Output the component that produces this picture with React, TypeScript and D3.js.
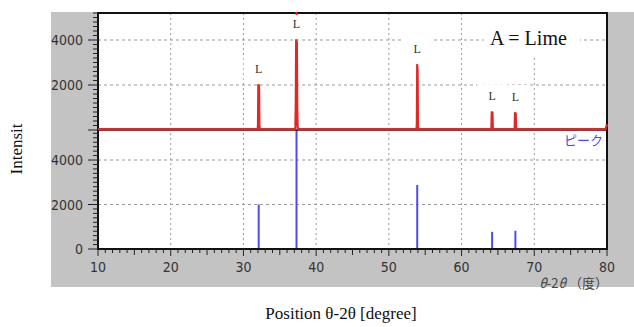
import React, { useEffect, useRef } from 'react';
import * as d3 from 'd3';

// peak positions (2-theta) and labels
const peakAngles = [32.1, 37.3, 53.9, 64.2, 67.4];
const peakLabels = ['L', 'L', 'L', 'L', 'L'];

// measured pattern (red), angle / counts
const traceAngles = [10, 31.95, 32.0, 32.05, 32.15, 32.2, 32.25, 37.1, 37.15, 37.2, 37.25, 37.35, 37.4, 37.45, 37.5,
    53.8, 53.85, 53.9, 53.95, 54.0, 54.05, 64.1, 64.15, 64.25, 64.3, 67.3, 67.35, 67.45, 67.5, 79.8, 80];
const traceCounts = [40, 40, 200, 2000, 1980, 200, 40, 40, 150, 1200, 4000, 3900, 1100, 200, 40,
    40, 300, 2900, 2700, 200, 40, 40, 790, 780, 40, 40, 760, 740, 40, 40, 250];

// reference card (blue sticks)
const refAngles = [32.1, 37.3, 53.9, 64.2, 67.4, 80];
const refCounts = [2000, 9000, 2880, 770, 820, 300];

const xTicks = [10, 20, 30, 40, 50, 60, 70, 80];
const upperTickLabels = [2000, 4000];
const lowerTickLabels = [0, 2000, 4000];

const tickFont = "'DejaVu Sans Condensed', 'Liberation Sans Narrow', 'DejaVu Sans', sans-serif";
const serif = "'Liberation Serif', 'Times New Roman', serif";
const cjk = "'Noto Sans CJK JP', sans-serif";

function App() {
    const chRef = useRef<SVGSVGElement>(null);

    useEffect(() => {
        const svg = d3.select(chRef.current);
        svg.selectAll('*').remove();

        const left = 98, right = 607, top = 13, mid = 130, bottom = 249;
        const x = d3.scaleLinear().domain([10, 80]).range([left, right]);
        const yUp = d3.scaleLinear().domain([0, 5200]).range([mid, top]);
        const yLo = d3.scaleLinear().domain([0, 5350]).range([bottom, mid]);

        // grey window background
        svg.append('rect').attr('x', 51).attr('y', 12).attr('width', 583).attr('height', 275).attr('fill', '#c3c3c3');
        svg.append('rect').attr('x', left).attr('y', top).attr('width', right - left).attr('height', bottom - top).attr('fill', '#fff');

        const defs = svg.append('defs');
        defs.append('clipPath').attr('id', 'lowClip').append('rect')
            .attr('x', left).attr('y', mid).attr('width', right - left).attr('height', bottom - mid);

        const grid = svg.append('g').attr('stroke', '#9a9a9a').attr('stroke-width', 1);
        // vertical dotted grid
        grid.selectAll('line.v').data(xTicks.slice(1, -1)).enter().append('line')
            .attr('x1', d => x(d)).attr('x2', d => x(d)).attr('y1', top).attr('y2', bottom)
            .attr('stroke-dasharray', '2,3');
        // horizontal dashed grid
        [yUp, yLo].forEach(y => {
            grid.selectAll(null).data([2000, 4000]).enter().append('line')
                .attr('x1', left).attr('x2', right).attr('y1', d => y(d)).attr('y2', d => y(d))
                .attr('stroke-dasharray', '3,3');
        });

        // highest point of the trace near each labelled peak
        const peakTop = peakAngles.map(a => {
            const vals = traceAngles.map((t, j) => Math.abs(t - a) < 0.12 ? traceCounts[j] : 0);
            return d3.max(vals) as number;
        });

        // white boxes behind peak labels and legend text
        svg.selectAll('rect.lb').data(peakAngles).enter().append('rect')
            .attr('x', d => x(d) - 15).attr('y', (d, i) => yUp(peakTop[i]) - 28)
            .attr('width', 30).attr('height', 24).attr('fill', '#fff');
        svg.append('rect').attr('x', 484).attr('y', 14).attr('width', 96).attr('height', 42).attr('fill', '#fff');

        // blue reference sticks
        svg.append('g').attr('clip-path', 'url(#lowClip)')
            .selectAll('line').data(refAngles).enter().append('line')
            .attr('x1', d => x(d)).attr('x2', d => x(d))
            .attr('y1', bottom).attr('y2', (d, i) => yLo(refCounts[i]))
            .attr('stroke', '#4d4dec').attr('stroke-width', 2);

        // axes frame
        const frame = svg.append('g').attr('stroke', '#111').attr('fill', 'none');
        frame.append('rect').attr('x', left).attr('y', top).attr('width', right - left).attr('height', bottom - top).attr('stroke-width', 2);
        frame.append('line').attr('x1', left).attr('x2', right).attr('y1', mid).attr('y2', mid).attr('stroke-width', 1.5);

        // y ticks
        const yTickG = svg.append('g').attr('stroke', '#222').attr('stroke-width', 1);
        const minorUp = d3.range(0, 5201, 200);
        const minorLo = d3.range(0, 5351, 200);
        yTickG.selectAll(null).data(minorUp).enter().append('line')
            .attr('x1', d => left - (d % 2000 === 0 ? 10 : 5)).attr('x2', left)
            .attr('y1', d => yUp(d)).attr('y2', d => yUp(d));
        yTickG.selectAll(null).data(minorLo).enter().append('line')
            .attr('x1', d => left - (d % 2000 === 0 ? 10 : 5)).attr('x2', left)
            .attr('y1', d => yLo(d)).attr('y2', d => yLo(d));

        const yLab = svg.append('g').attr('font-family', tickFont).attr('font-size', 14)
            .attr('fill', '#333').attr('text-anchor', 'end');
        yLab.selectAll(null).data(upperTickLabels).enter().append('text')
            .attr('x', left - 15).attr('y', d => yUp(d) + 5).text(d => d);
        yLab.selectAll(null).data(lowerTickLabels).enter().append('text')
            .attr('x', left - 15).attr('y', d => yLo(d) + 5).text(d => d);

        // x ticks
        svg.append('g').attr('stroke', '#222').attr('stroke-width', 1)
            .selectAll('line').data(d3.range(10, 81, 1)).enter().append('line')
            .attr('x1', d => x(d)).attr('x2', d => x(d)).attr('y1', bottom)
            .attr('y2', d => bottom + (d % 10 === 0 ? 7 : d % 5 === 0 ? 6 : 4));
        svg.append('g').attr('font-family', tickFont).attr('font-size', 14)
            .attr('fill', '#333').attr('text-anchor', 'middle')
            .selectAll('text').data(xTicks).enter().append('text')
            .attr('x', d => x(d)).attr('y', 272).text(d => d);
        svg.append('text').attr('x', right + 1).attr('y', 288).attr('text-anchor', 'end')
            .attr('font-family', cjk).attr('font-size', 13).attr('fill', '#444')
            .html('<tspan font-style="italic">θ</tspan>-2<tspan font-style="italic">θ</tspan> （度）');

        // measured trace
        const line = d3.line<number>().x(d => x(d)).y((d, i) => yUp(traceCounts[i]));
        svg.append('path').datum(traceAngles).attr('d', line)
            .attr('fill', 'none').attr('stroke', '#e02828').attr('stroke-width', 2.2).attr('stroke-linejoin', 'round');
        svg.append('line').attr('x1', x(peakAngles[1])).attr('x2', x(peakAngles[1]))
            .attr('y1', top - 1).attr('y2', top + 2).attr('stroke', '#e02828').attr('stroke-width', 2);

        // peak labels
        svg.append('g').attr('font-family', serif).attr('font-size', 12).attr('fill', '#333')
            .attr('text-anchor', 'middle')
            .selectAll('text').data(peakAngles).enter().append('text')
            .attr('x', d => x(d)).attr('y', (d, i) => yUp(peakTop[i]) - 12).text((d, i) => peakLabels[i]);

        svg.append('text').attr('x', 490).attr('y', 45).attr('font-family', serif)
            .attr('font-size', 20).attr('fill', '#111').text('A = Lime');
        svg.append('text').attr('x', 603).attr('y', 145).attr('text-anchor', 'end')
            .attr('font-family', cjk).attr('font-size', 13).attr('fill', '#4a4ae6').text('ピーク');

        // outer axis titles
        svg.append('text').attr('transform', 'translate(22,149) rotate(-90)').attr('text-anchor', 'middle')
            .attr('font-family', serif).attr('font-size', 17).attr('fill', '#111').text('Intensit');
        svg.append('text').attr('x', 341).attr('y', 319).attr('text-anchor', 'middle')
            .attr('font-family', serif).attr('font-size', 17).attr('fill', '#111').text('Position θ-2θ [degree]');
    }, []);

    return (
        <svg ref={chRef} width={634} height={327}
            style={{ position: 'absolute', left: 0, top: 0, background: '#fff' }} />
    );
}

export default App;
